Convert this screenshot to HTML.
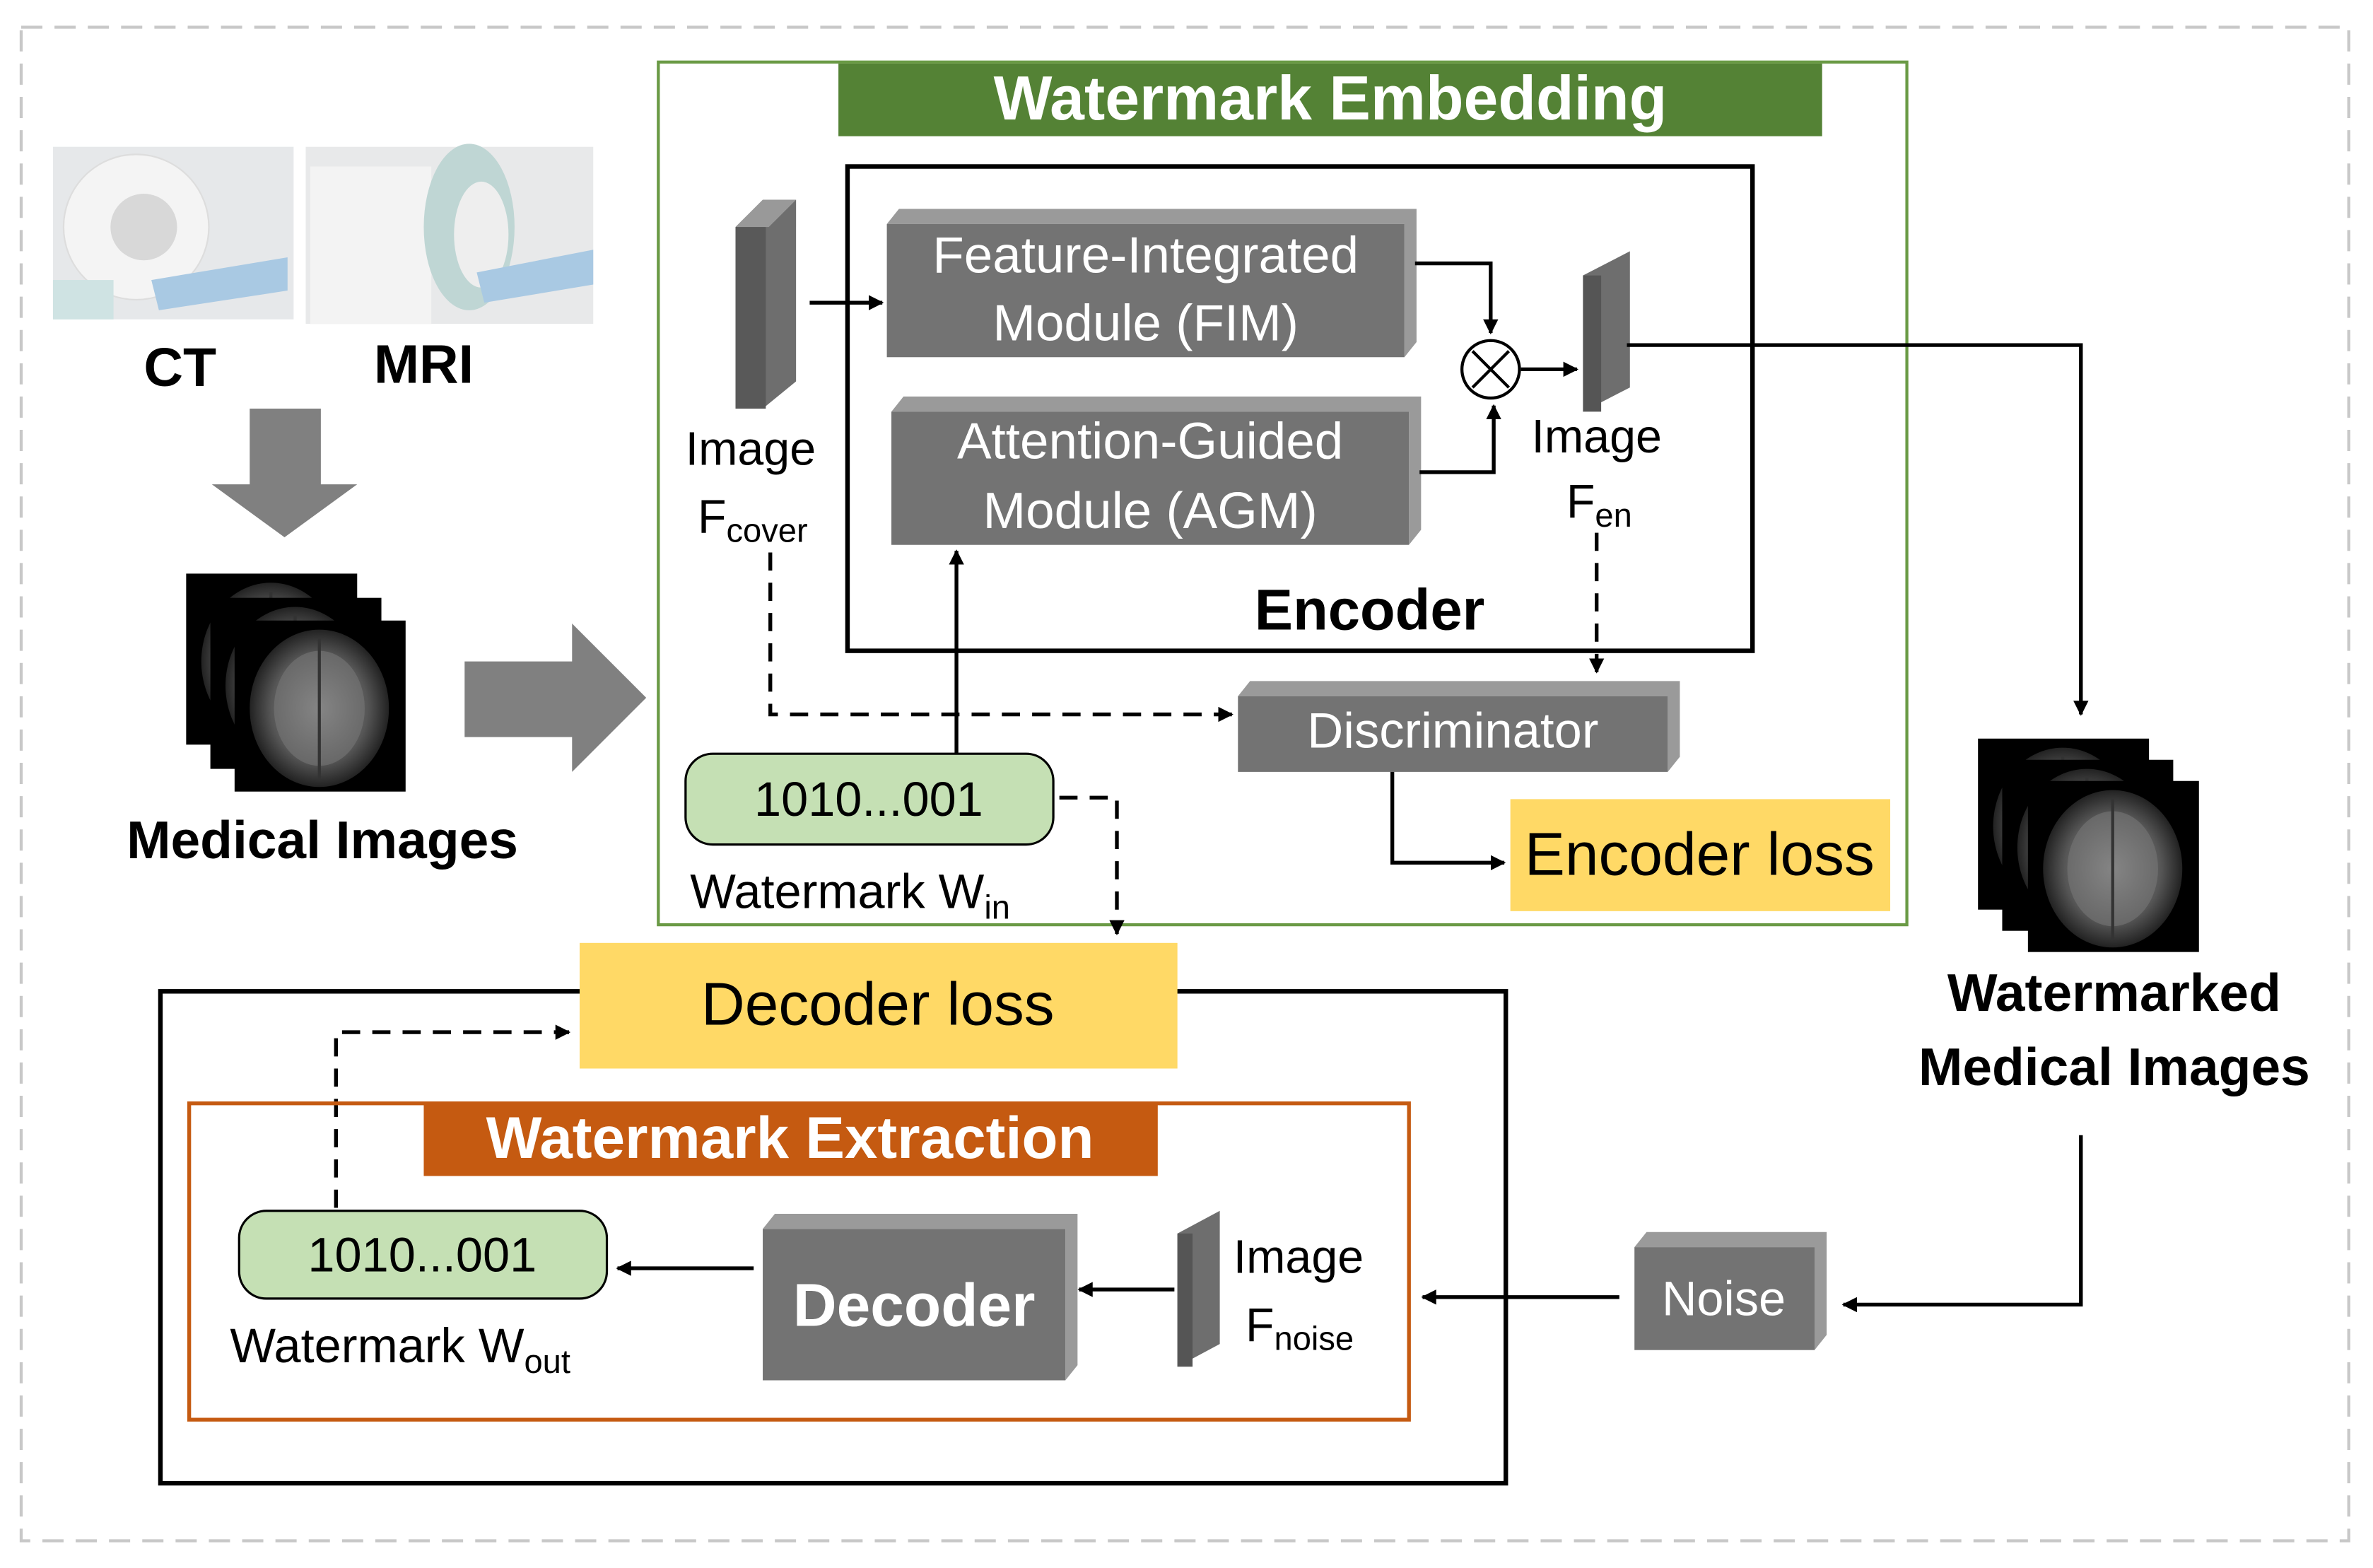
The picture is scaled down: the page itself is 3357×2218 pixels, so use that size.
<!DOCTYPE html>
<html><head><meta charset="utf-8"><style>
html,body{margin:0;padding:0;background:#fff;}
svg{display:block;}
text{font-family:"Liberation Sans","DejaVu Sans",sans-serif;}
</style></head><body>
<svg width="3357" height="2218" viewBox="0 0 1568 1036" xmlns="http://www.w3.org/2000/svg">
<defs>
<marker id="ah" markerWidth="10" markerHeight="10" refX="9" refY="5" orient="auto" markerUnits="userSpaceOnUse"><path d="M0,0 L10,5 L0,10 z" fill="#000"/></marker>
<radialGradient id="brain" cx="50%" cy="50%" r="50%"><stop offset="0" stop-color="#9a9a9a"/><stop offset="0.7" stop-color="#555"/><stop offset="1" stop-color="#222"/></radialGradient>
<g id="bimg"><rect width="113" height="113" fill="#000"/><ellipse cx="56" cy="58" rx="46" ry="52" fill="url(#brain)"/><ellipse cx="56" cy="58" rx="30" ry="38" fill="#777" opacity="0.6"/><line x1="56" y1="12" x2="56" y2="105" stroke="#333" stroke-width="2"/></g>
</defs>
<rect x="14" y="18" width="1538" height="1000" fill="none" stroke="#c8c8c8" stroke-width="2" stroke-dasharray="14,8"/>

<rect x="35" y="97" width="159" height="114" fill="#e6e8ea"/>
<circle cx="90" cy="150" r="48" fill="#f4f4f4" stroke="#ddd"/><circle cx="95" cy="150" r="22" fill="#d8d8d8"/>
<path d="M100,185 L190,170 L190,192 L105,205 z" fill="#a9c9e3"/><rect x="35" y="185" width="40" height="26" fill="#cfe3e3"/>
<rect x="202" y="97" width="190" height="117" fill="#e8e9ea"/>
<rect x="205" y="110" width="80" height="104" fill="#f3f3f3"/><ellipse cx="310" cy="150" rx="30" ry="55" fill="#bfd6d4"/><ellipse cx="318" cy="155" rx="18" ry="35" fill="#eee"/>
<path d="M315,180 L392,165 L392,188 L320,200 z" fill="#a9c9e3"/>
<text x="119" y="255" font-size="36" font-weight="bold" text-anchor="middle">CT</text>
<text x="280" y="253" font-size="36" font-weight="bold" text-anchor="middle">MRI</text>
<polygon points="165,270 212,270 212,320 236,320 188,355 140,320 165,320" fill="#808080"/>
<use href="#bimg" x="123" y="379"/><use href="#bimg" x="139" y="395"/><use href="#bimg" x="155" y="410"/>
<text x="213" y="567" font-size="35" font-weight="bold" text-anchor="middle">Medical Images</text>
<polygon points="307,437 378,437 378,412 427,461 378,510 378,487 307,487" fill="#808080"/>

<rect x="435" y="41" width="825" height="570" fill="none" stroke="#6a9a45" stroke-width="2"/>
<rect x="554" y="42" width="650" height="48" fill="#548235"/>
<text x="879" y="79" font-size="41" font-weight="bold" fill="#fff" text-anchor="middle">Watermark Embedding</text>
<rect x="560" y="110" width="598" height="320" fill="none" stroke="#000" stroke-width="3"/>
<text x="905" y="416" font-size="38" font-weight="bold" text-anchor="middle">Encoder</text>
<polygon points="586,148 594,138 936,138 936,226 928,236 928,148" fill="#9a9a9a"/>
<rect x="586" y="148" width="342" height="88" fill="#737373"/>
<text x="757" y="180" font-size="34" fill="#fff" text-anchor="middle">Feature-Integrated</text>
<text x="757" y="225" font-size="34" fill="#fff" text-anchor="middle">Module (FIM)</text>
<polygon points="589,272 597,262 939,262 939,350 931,360 931,272" fill="#9a9a9a"/>
<rect x="589" y="272" width="342" height="88" fill="#737373"/>
<text x="760" y="303" font-size="34" fill="#fff" text-anchor="middle">Attention-Guided</text>
<text x="760" y="349" font-size="34" fill="#fff" text-anchor="middle">Module (AGM)</text>
<polygon points="486,150 504,132 526,132 526,252 504,270 486,270" fill="#6e6e6e"/>
<polygon points="486,150 504,132 526,132 508,150" fill="#999"/>
<rect x="486" y="150" width="20" height="120" fill="#595959"/>
<text x="496" y="307" font-size="31" text-anchor="middle">Image</text>
<text x="461" y="352" font-size="31">F<tspan font-size="22" dy="6">cover</tspan></text>
<polygon points="1046,182 1077,166 1077,256 1046,272" fill="#6e6e6e"/>
<rect x="1046" y="182" width="12" height="90" fill="#555"/>
<text x="1055" y="299" font-size="31" text-anchor="middle">Image</text>
<text x="1035" y="342" font-size="31">F<tspan font-size="22" dy="6">en</tspan></text>
<circle cx="985" cy="244" r="19" fill="#fff" stroke="#000" stroke-width="2"/>
<path d="M973,232 L997,256 M997,232 L973,256" stroke="#000" stroke-width="2"/>
<polygon points="818,460 826,450 1110,450 1110,500 1102,510 1102,460" fill="#9a9a9a"/>
<rect x="818" y="460" width="284" height="50" fill="#737373"/>
<text x="960" y="494" font-size="33" fill="#fff" text-anchor="middle">Discriminator</text>
<rect x="998" y="528" width="251" height="74" fill="#ffd966"/>
<text x="1123" y="578" font-size="40" text-anchor="middle">Encoder loss</text>
<rect x="453" y="498" width="243" height="60" rx="18" fill="#c5e0b4" stroke="#000" stroke-width="1.5"/>
<text x="574" y="539" font-size="32" text-anchor="middle">1010...001</text>
<text x="456" y="600" font-size="32">Watermark W<tspan font-size="22" dy="7">in</tspan></text>

<g stroke="#000" stroke-width="2.5" fill="none">
<path d="M535,200 H583" marker-end="url(#ah)"/>
<path d="M935,174 H985 V220" marker-end="url(#ah)"/>
<path d="M938,312 H987 V268" marker-end="url(#ah)"/>
<path d="M1005,244 H1042" marker-end="url(#ah)"/>
<path d="M1075,228 H1375 V472" marker-end="url(#ah)"/>
<path d="M632,498 V364" marker-end="url(#ah)"/>
<path d="M920,510 V570 H994" marker-end="url(#ah)"/>
<g stroke-dasharray="12,8">
<path d="M1055,352 V444" marker-end="url(#ah)"/>
<path d="M509,365 V472 H814" marker-end="url(#ah)"/>
<path d="M700,527 H738 V617" marker-end="url(#ah)"/>
<path d="M222,798 V682 H376" marker-end="url(#ah)"/>
</g>
<path d="M1375,750 V862 H1218" marker-end="url(#ah)"/>
<path d="M1070,857 H940" marker-end="url(#ah)"/>
<path d="M776,852 H713" marker-end="url(#ah)"/>
<path d="M498,838 H408" marker-end="url(#ah)"/>
</g>

<use href="#bimg" x="1307" y="488"/><use href="#bimg" x="1323" y="502"/><use href="#bimg" x="1340" y="516"/>
<text x="1397" y="668" font-size="35" font-weight="bold" text-anchor="middle">Watermarked</text>
<text x="1397" y="717" font-size="35" font-weight="bold" text-anchor="middle">Medical Images</text>

<rect x="106" y="655" width="889" height="325" fill="none" stroke="#000" stroke-width="3"/>
<rect x="383" y="623" width="395" height="83" fill="#ffd966"/>
<text x="580" y="677" font-size="40" text-anchor="middle">Decoder loss</text>
<rect x="125" y="729" width="806" height="209" fill="none" stroke="#c55a11" stroke-width="2.5"/>
<rect x="280" y="729" width="485" height="48" fill="#c55a11"/>
<text x="522" y="765" font-size="39" font-weight="bold" fill="#fff" text-anchor="middle">Watermark Extraction</text>
<polygon points="504,812 512,802 712,802 712,902 704,912 704,812" fill="#9a9a9a"/>
<rect x="504" y="812" width="200" height="100" fill="#737373"/>
<text x="604" y="876" font-size="40" font-weight="bold" fill="#fff" text-anchor="middle">Decoder</text>
<polygon points="778,815 806,800 806,888 778,903" fill="#6e6e6e"/>
<rect x="778" y="815" width="10" height="88" fill="#555"/>
<text x="858" y="841" font-size="31" text-anchor="middle">Image</text>
<text x="823" y="886" font-size="31">F<tspan font-size="22" dy="6">noise</tspan></text>
<rect x="158" y="800" width="243" height="58" rx="18" fill="#c5e0b4" stroke="#000" stroke-width="1.5"/>
<text x="279" y="840" font-size="32" text-anchor="middle">1010...001</text>
<text x="152" y="900" font-size="32">Watermark W<tspan font-size="22" dy="7">out</tspan></text>
<polygon points="1080,824 1088,814 1207,814 1207,882 1199,892 1199,824" fill="#9a9a9a"/>
<rect x="1080" y="824" width="119" height="68" fill="#737373"/>
<text x="1139" y="869" font-size="32" fill="#fff" text-anchor="middle">Noise</text>
</svg>
</body></html>
